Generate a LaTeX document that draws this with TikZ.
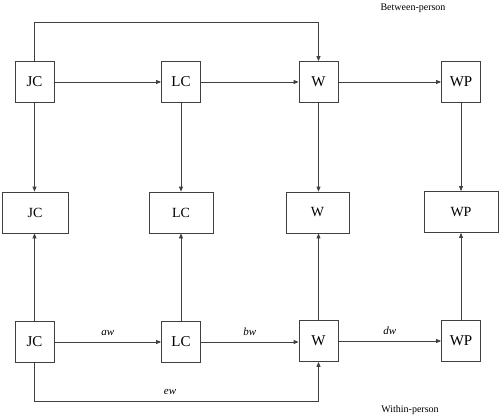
\documentclass[tikz,border=0pt]{standalone}
\usepackage{fontspec}
\setmainfont{Liberation Serif}
\usetikzlibrary{arrows.meta}
\begin{document}
\begin{tikzpicture}[x=1pt,y=-1pt,
  sq/.style={draw=black!75,line width=0.8pt,minimum width=39pt,minimum height=41pt,inner sep=0pt,font=\fontsize{15}{15}\selectfont},
  mid/.style={draw=black!75,line width=0.8pt,minimum height=41pt,inner sep=0pt,font=\fontsize{14}{14}\selectfont},
  arr/.style={draw=black!75,line width=0.8pt,-{Triangle[length=5pt,width=4pt]}},
  lab/.style={font=\fontsize{11}{11}\selectfont\itshape},
  captxt/.style={font=\fontsize{10}{10}\selectfont}]
\useasboundingbox (0,0) rectangle (500,418);
% top row
\node[sq] (jc1) at (34.5,82) {JC};
\node[sq] (lc1) at (181,82) {LC};
\node[sq] (w1) at (318.5,82) {W};
\node[sq] (wp1) at (461,82) {WP};
% middle row
\node[mid,minimum width=66pt] (jc2) at (35,212.5) {JC};
\node[mid,minimum width=64pt] (lc2) at (181,212.5) {LC};
\node[mid,minimum width=63pt] (w2) at (317.5,212.5) {W};
\node[mid,minimum width=74pt] (wp2) at (461,212) {WP};
% bottom row
\node[sq] (jc3) at (34.5,342) {JC};
\node[sq] (lc3) at (181,342) {LC};
\node[sq] (w3) at (318.5,341) {W};
\node[sq] (wp3) at (461,341) {WP};
% captions
\node[captxt] (bp) at (413,8) {Between-person};
\node[captxt] (wip) at (410,410) {Within-person};
% top connectors
\coordinate (t1) at (34.5,22);
\coordinate (t2) at (318.5,22);
\draw[arr] (jc1.north) -- (t1) -- (t2) -- (w1.north);
\draw[arr] (jc1) -- (lc1);
\draw[arr] (lc1) -- (w1);
\draw[arr] (w1) -- (wp1);
% vertical down
\draw[arr] (jc1.south) -- (jc2.north -| jc1.south);
\draw[arr] (lc1.south) -- (lc2.north -| lc1.south);
\draw[arr] (w1.south) -- (w2.north -| w1.south);
\draw[arr] (wp1.south) -- (wp2.north -| wp1.south);
% vertical up
\draw[arr] (jc3.north) -- (jc2.south -| jc3.north);
\draw[arr] (lc3.north) -- (lc2.south -| lc3.north);
\draw[arr] (w3.north) -- (w2.south -| w3.north);
\draw[arr] (wp3.north) -- (wp2.south -| wp3.north);
% bottom connectors
\draw[arr] (jc3) -- node[lab,above=3pt] (aw) {aw} (lc3);
\draw[arr] (lc3) -- node[lab,above=3pt] (bw) {bw} (w3.west |- lc3);
\draw[arr] (w3) -- node[lab,above=3pt] (dw) {dw} (wp3);
\coordinate (b1) at (34.5,401);
\coordinate (b2) at (318.5,401);
\draw[arr] (jc3.south) -- (b1) -- (b2) -- (w3.south);
\node[lab] (ew) at (170,392) {ew};
\end{tikzpicture}
\end{document}
